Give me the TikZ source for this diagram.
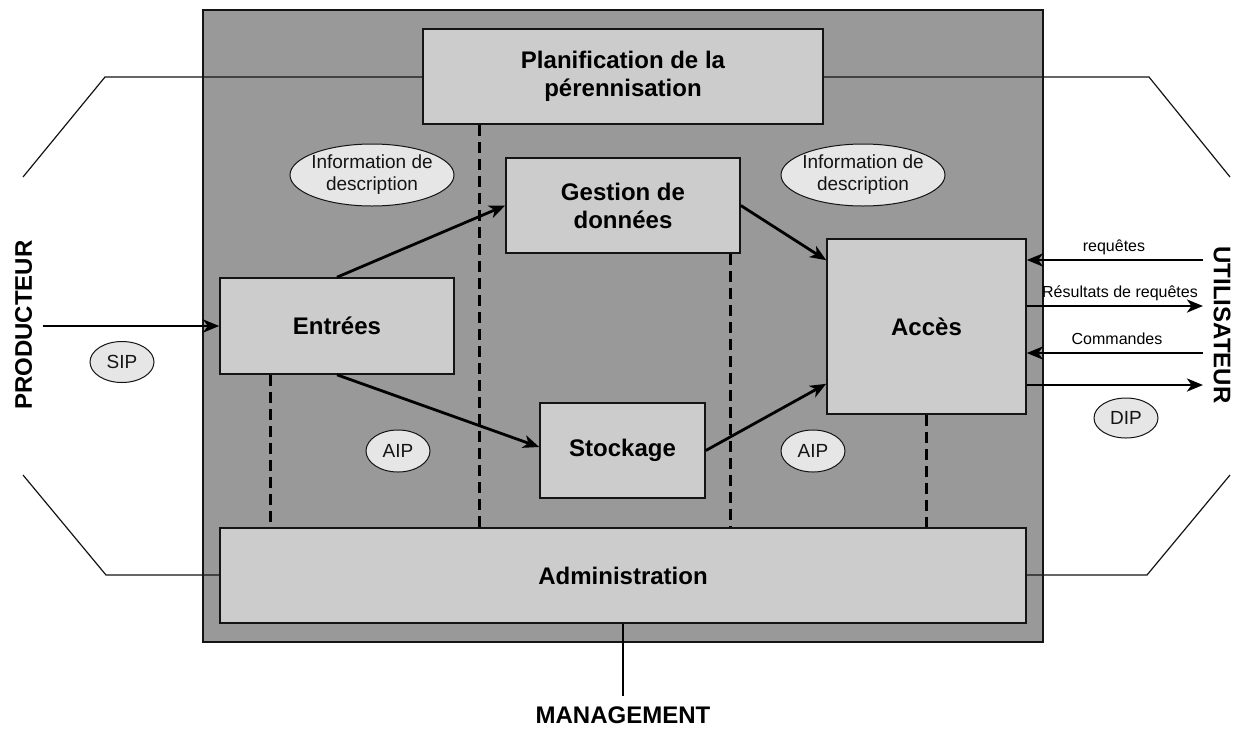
\documentclass[tikz,border=0pt]{standalone}
\usepackage{fontspec}
\setmainfont{Liberation Sans}
\usetikzlibrary{arrows.meta,shapes.geometric,calc}
\definecolor{outergray}{HTML}{999999}
\definecolor{boxgray}{HTML}{CCCCCC}
\definecolor{ellgray}{HTML}{E6E6E6}
\definecolor{inkc}{HTML}{141414}
\begin{document}
\begin{tikzpicture}[x=1pt,y=-1pt,
  box/.style={draw=inkc, line width=1.6pt, fill=boxgray, rectangle, inner sep=0pt,
    font=\fontsize{24}{28}\selectfont\bfseries, align=center},
  ell/.style={draw=inkc, line width=1pt, fill=ellgray, ellipse, inner sep=0pt,
    font=\fontsize{19}{22}\selectfont, align=center, text=inkc},
  arr/.style={line width=2.8pt, -{Stealth[length=16pt,width=13pt,inset=4.5pt]}},
  dashline/.style={line width=2.8pt, dash pattern=on 11pt off 6pt},
  frameline/.style={line width=1.2pt, draw=inkc},
  side/.style={font=\fontsize{24}{28}\selectfont\bfseries, inner sep=0pt},
  lbl/.style={font=\fontsize{16}{19}\selectfont, inner sep=0pt}
]
\useasboundingbox (0,0) rectangle (1248,729);

% outer gray system box
\draw[draw=inkc, line width=1.5pt, fill=outergray] (203,10) rectangle (1043,642);

% frame lines (producer / user / boundaries)
\coordinate (tlA) at (23,177);
\coordinate (tlB) at (105,77);
\coordinate (trB) at (1149,77);
\coordinate (trA) at (1230,177);
\coordinate (blA) at (23,475);
\coordinate (blB) at (106,575);
\coordinate (brB) at (1147,575);
\coordinate (brA) at (1230,475);
\draw[frameline] (tlA) -- (tlB) -- (trB) -- (trA);
\draw[frameline] (blA) -- (blB) -- (brB) -- (brA);

% functional boxes
\node[box, minimum width=400pt, minimum height=95pt] (plan) at (623,76.5) {Planification de la\\pérennisation};
\node[box, minimum width=234pt, minimum height=95pt] (gestion) at (623,205.5) {Gestion de\\données};
\node[box, minimum width=234pt, minimum height=96pt] (entrees) at (337,326) {Entrées};
\node[box, minimum width=199pt, minimum height=175pt] (acces) at (926.5,326.5) {Accès};
\node[box, minimum width=165pt, minimum height=95pt] (stockage) at (622.5,450.5) {Stockage};
\node[box, minimum width=806pt, minimum height=95pt] (admin) at (623,575.5) {Administration};

% ellipses
\node[ell, inner xsep=-3pt, minimum width=164pt, minimum height=62pt] (info1) at (372,175) {Information de\\description};
\node[ell, inner xsep=-3pt, minimum width=164pt, minimum height=62pt] (info2) at (863,175) {Information de\\description};
\node[ell, minimum width=64pt, minimum height=42pt] (aip1) at (398,451) {AIP};
\node[ell, minimum width=64pt, minimum height=42pt] (aip2) at (813,451) {AIP};
\node[ell, minimum width=64pt, minimum height=41pt] (sip) at (122,362) {SIP};
\node[ell, minimum width=64pt, minimum height=40pt] (dip) at (1126,418) {DIP};

% dashed links to Administration
\draw[dashline] ([xshift=57pt]plan.south west) -- ([xshift=57pt]plan.south west |- admin.north);
\draw[dashline] ([xshift=51pt]entrees.south west) -- ([xshift=51pt]entrees.south west |- admin.north);
\draw[dashline] ([xshift=-10pt]gestion.south east) -- ([xshift=-10pt]gestion.south east |- admin.north);
\draw[dashline] (acces.south) -- (acces.south |- admin.north);

% internal flows
\draw[arr] (entrees.north) -- (gestion.west);
\draw[arr] (gestion.east) -- ([yshift=-22pt]acces.north west);
\draw[arr] (entrees.south) -- ([yshift=3.5pt]stockage.west);
\draw[arr] (stockage.east) -- ([yshift=31pt]acces.south west);

% producer side
\node[side, rotate=90] (prod) at (23.5,325) {PRODUCTEUR};
\coordinate (pin) at (43,326);
\draw[arr] (pin) -- (entrees.west);

% user side
\node[side, rotate=-90] (util) at (1222,325) {UTILISATEUR};
\coordinate (u1) at (1203,260);
\coordinate (u2) at (1203,306);
\coordinate (u3) at (1203,353);
\coordinate (u4) at (1203,385);
\draw[arr] (u1) -- (acces.east |- u1);
\draw[arr] (acces.east |- u2) -- (u2);
\draw[arr] (u3) -- (acces.east |- u3);
\draw[arr] (acces.east |- u4) -- (u4);
\node[lbl, anchor=base] (lreq) at (1114,251) {requêtes};
\node[lbl, anchor=base] (lres) at (1120,297) {Résultats de requêtes};
\node[lbl, anchor=base] (lcmd) at (1117,344) {Commandes};

% management
\node[side, anchor=north] (mgmt) at (623,707) {MANAGEMENT};
\draw[line width=2.8pt] (admin.south) -- ([yshift=11pt]mgmt.north);
\end{tikzpicture}
\end{document}
